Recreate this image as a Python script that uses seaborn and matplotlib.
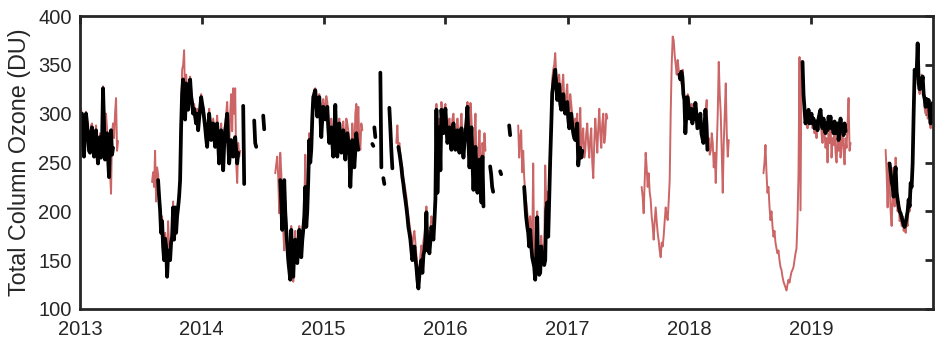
import numpy as np
import pandas as pd
import matplotlib
matplotlib.use("Agg")
import matplotlib.pyplot as plt
import seaborn as sns

# ---------------- data (3-day spaced samples, values in DU) ----------------
# each segment: start date, list of values sampled every 3 days
red_2013a_start = "2013-01-01"
red_2013a = [290, 305, 298, 275, 262, 290, 302, 295, 285, 270, 265, 288, 290, 275, 262, 275,
             288, 270, 255, 268, 280, 262, 275, 328, 305, 290, 300, 285, 270, 250, 240, 218,
             280, 290, 275, 300, 316, 262, 272]
black_2013a_start = "2013-01-01"
black_2013a = [286, 295, 300, 268, 256, 285, 300, 290, 276, 262, 260, 280, 286, 270, 256, 268,
               283, 262, 249, 265, 276, 255, 270, 326, 290, 253, 262, 280, 255, 235, 270, 283,
               258, 265]

red_2013b_start = "2013-08-05"
red_2013b = [230, 240, 225, 262, 210, 245, 238, 220, 205, 185, 195, 170, 160, 178, 168, 140,
             190, 165, 155, 172, 180, 210, 175, 200, 182, 200, 210, 220, 240, 300, 345, 350,
             365, 310, 340, 325, 310, 330, 338, 325, 315, 305, 310, 300, 295, 305, 290, 300,
             310, 320, 312, 308, 300, 290, 282, 272, 292, 305, 295, 280, 285, 295, 285, 272,
             285, 298, 280, 258, 272, 290, 270, 250, 275, 290, 300, 312, 285, 262, 300, 320,
             282, 326, 300, 326, 250, 229, 270, 256, 262]
black_2013b_start = "2013-08-23"
black_2013b = [232, 215, 201, 178, 190, 164, 150, 172, 164, 133, 155, 160, 150, 168, 174, 204,
               171, 204, 178, 195, 204, 215, 232, 286, 321, 335, 318, 294, 331, 320, 304, 322,
               335, 318, 311, 300, 305, 297, 290, 300, 283, 295, 305, 317, 310, 304, 295, 286,
               275, 266, 285, 300, 288, 273, 280, 290, 278, 266, 275, 290, 270, 249, 265, 283,
               262, 242, 268, 283, 290, 300, 270, 249, 262, 273, 265, 256, 268, 276, 262, 249,
               260]
black_2014a_start = "2014-05-05"
black_2014a = [308, 228]
black_2014b_start = "2014-06-07"
black_2014b = [293, 270, 266]
black_2014c_start = "2014-07-04"
black_2014c = [298, 284]

red_2014_start = "2014-08-09"
red_2014 = [239, 248, 256, 235, 198, 260, 240, 215, 181, 160, 210, 190, 172, 160, 148, 135,
            185, 160, 128, 165, 180, 160, 150, 172, 185, 175, 160, 178, 190, 200, 258, 190,
            215, 240, 280, 262, 272, 300, 320, 325, 326, 315, 305, 312, 320, 310, 290, 300,
            315, 308, 300, 318, 312, 295, 280, 290, 295, 280, 265, 290, 300, 285, 265, 285,
            295, 280, 270, 285, 292, 275, 262, 295, 290, 282, 272, 240, 262, 290, 275, 258,
            300, 310, 280, 307, 270, 263, 290, 283]
black_2014_start = "2014-08-24"
black_2014 = [232, 210, 181, 205, 232, 200, 181, 165, 150, 140, 130, 181, 150, 133, 160, 171,
              155, 147, 165, 181, 170, 153, 170, 181, 194, 225, 184, 200, 232, 273, 250, 263,
              295, 317, 320, 324, 310, 297, 305, 317, 300, 276, 295, 307, 300, 294, 300, 307,
              285, 270, 280, 286, 270, 256, 280, 309, 270, 256, 275, 290, 272, 260, 275, 283,
              265, 253, 270, 280, 272, 263, 225, 250, 273, 260, 245, 262, 280, 270, 263]
black_2015a_start = "2015-05-27"
black_2015a = [269, 267]
black_2015b_start = "2015-06-02"
black_2015b = [286, 276]
black_2015c_start = "2015-06-20"
black_2015c = [342, 245]
black_2015d_start = "2015-06-29"
black_2015d = [234, 228]
black_2015e_start = "2015-07-17"
black_2015e = [306, 285, 262, 244]

red_2015_start = "2015-08-07"
red_2015 = [270, 288, 262, 270, 258, 250, 245, 235, 228, 222, 215, 205, 195, 188, 180, 172,
            165, 175, 180, 168, 155, 145, 125, 140, 155, 165, 150, 170, 175, 185, 205, 172,
            180, 170, 182, 195, 190, 185, 200, 225, 310, 240, 275, 295, 260, 312, 300, 292,
            305, 310, 295, 280, 290, 295, 285, 275, 295, 300, 285, 275, 282, 295, 280, 272,
            285, 300, 280, 268, 282, 290, 300, 312, 285, 260, 311, 295, 265, 240, 275, 300,
            255, 235, 262, 283, 250, 230, 270, 255, 280, 262]
black_2015_start = "2015-08-13"
black_2015 = [266, 260, 253, 245, 235, 228, 219, 212, 204, 195, 184, 178, 171, 160, 150, 158,
              164, 152, 143, 130, 121, 135, 143, 150, 137, 155, 160, 170, 199, 160, 165, 157,
              170, 184, 178, 171, 190, 212, 304, 219, 260, 286, 242, 304, 290, 280, 295, 305,
              285, 270, 278, 286, 275, 263, 280, 290, 275, 263, 272, 283, 270, 260, 275, 285,
              268, 255, 270, 280, 290, 307, 270, 245, 265, 286, 250, 222, 250, 266, 240, 219,
              240, 253, 230, 209, 256, 205]
black_2016a_start = "2016-05-14"
black_2016a = [246, 238, 225, 220]
black_2016b_start = "2016-06-13"
black_2016b = [241, 238]
black_2016c_start = "2016-07-10"
black_2016c = [288, 278]

red_2016_start = "2016-08-06"
red_2016 = [288, 255, 276, 283, 240, 262, 235, 220, 210, 200, 190, 175, 195, 180, 165, 249,
            155, 140, 160, 200, 150, 142, 148, 175, 160, 165, 155, 247, 210, 220, 185, 225,
            265, 300, 335, 345, 350, 362, 340, 325, 335, 340, 320, 315, 330, 340, 315, 310,
            320, 330, 305, 295, 320, 310, 298, 290, 285, 295, 290, 300, 260, 270, 306, 265,
            275, 285, 255, 262, 280, 290, 268, 255, 275, 285, 250, 234, 270, 295, 278, 260,
            285, 305, 280, 265, 290, 300, 270, 278, 300, 295]
black_2016_start = "2016-08-24"
black_2016 = [225, 209, 194, 185, 178, 164, 181, 165, 153, 148, 143, 130, 150, 194, 143, 135,
              137, 164, 150, 157, 145, 150, 201, 209, 174, 212, 253, 286, 321, 330, 338, 345,
              330, 314, 322, 330, 310, 304, 315, 320, 305, 300, 308, 312, 295, 285, 292, 300,
              288, 280, 275, 273, 282, 290, 247, 258, 265, 255, 262]

red_2017_start = "2017-08-11"
red_2017 = [225, 215, 198, 230, 260, 245, 225, 239, 220, 212, 195, 185, 171, 190, 204, 190,
            178, 170, 160, 153, 168, 164, 175, 190, 204, 195, 191, 210, 232, 300, 350, 379,
            375, 360, 350, 340, 355, 345, 340, 343, 330, 345, 320, 314, 285, 300, 320, 317,
            305, 300, 310, 295, 305, 300, 311, 300, 290, 286, 295, 300, 285, 275, 270, 290,
            304, 314, 263, 275, 258, 262, 280, 270, 245, 260, 229, 265, 300, 353, 320, 300,
            260, 219, 270, 300, 331, 280, 256, 273]
black_2017_start = "2017-12-02"
black_2017 = [340, 335, 343, 338, 320, 314, 280, 300, 317, 310, 295, 300, 305, 290, 300, 295,
              311, 300, 285, 286, 290, 300, 280, 275, 270, 285, 304, 290, 263]

red_2018_start = "2018-08-11"
red_2018 = [239, 250, 268, 240, 219, 225, 205, 191, 200, 185, 174, 180, 168, 162, 157, 160,
            150, 143, 140, 133, 128, 125, 122, 119, 125, 130, 127, 133, 138, 140, 143, 150,
            157, 162, 191, 239, 358, 201, 350, 350, 320, 300, 290, 300, 285, 304, 295, 296,
            300, 285, 290, 280, 287, 275, 290, 285, 300, 304, 280, 270, 290, 280, 265, 275,
            250, 280, 270, 290, 255, 275, 268, 285, 260, 250, 275, 262, 280, 255, 270, 285,
            262, 248, 275, 265, 290, 316, 262, 270]
black_2018_start = "2018-12-06"
black_2018 = [353, 320, 305, 290, 298, 293, 304, 290, 296, 300, 290, 295, 285, 287, 292, 283,
              295, 300, 304, 290, 285, 295, 285, 280, 290, 283, 297, 290, 297, 285, 290, 280,
              292, 280, 285, 290, 273, 285, 295, 282, 288, 278, 290, 282]

red_2019_start = "2019-08-12"
red_2019 = [263, 240, 204, 250, 230, 200, 185, 215, 245, 205, 255, 222, 200, 210, 190, 195,
            185, 195, 180, 185, 178, 190, 185, 205, 200, 215, 225, 245, 300, 340, 345, 335,
            365, 325, 320, 330, 340, 330, 320, 305, 300, 310, 295, 310, 290, 285, 300, 305,
            295]
black_2019_start = "2019-08-24"
black_2019 = [249, 240, 230, 225, 215, 235, 245, 220, 212, 205, 200, 198, 194, 190, 186, 184,
              188, 194, 200, 212, 205, 229, 225, 249, 300, 345, 340, 342, 372, 331, 325, 335,
              330, 338, 320, 315, 307, 315, 310, 314, 300, 290, 305, 311, 300]

red_segments = [(red_2013a_start, red_2013a), (red_2013b_start, red_2013b),
                (red_2014_start, red_2014), (red_2015_start, red_2015),
                (red_2016_start, red_2016), (red_2017_start, red_2017),
                (red_2018_start, red_2018), (red_2019_start, red_2019)]
black_segments = [(black_2013a_start, black_2013a), (black_2013b_start, black_2013b),
                  (black_2014a_start, black_2014a), (black_2014b_start, black_2014b),
                  (black_2014c_start, black_2014c), (black_2014_start, black_2014),
                  (black_2015a_start, black_2015a), (black_2015b_start, black_2015b),
                  (black_2015c_start, black_2015c), (black_2015d_start, black_2015d),
                  (black_2015e_start, black_2015e), (black_2015_start, black_2015),
                  (black_2016a_start, black_2016a), (black_2016b_start, black_2016b),
                  (black_2016c_start, black_2016c), (black_2016_start, black_2016),
                  (black_2017_start, black_2017), (black_2018_start, black_2018),
                  (black_2019_start, black_2019)]

year_ticks = [2013, 2014, 2015, 2016, 2017, 2018, 2019]
y_ticks = [100, 150, 200, 250, 300, 350, 400]


def build(segments):
    frames = []
    for i, (start, vals) in enumerate(segments):
        dates = pd.date_range(start, periods=len(vals), freq="3D")
        frames.append(pd.DataFrame({"date": dates, "ozone": vals, "seg": i}))
    return pd.concat(frames, ignore_index=True)


red_df = build(red_segments)
black_df = build(black_segments)

# ---------------- style ----------------
sns.set_style("white")
plt.rcParams["font.family"] = ["Liberation Sans", "DejaVu Sans"]
ink = "#262626"
plt.rcParams.update({
    "xtick.direction": "in", "ytick.direction": "in",
    "xtick.top": True, "ytick.right": True,
    "xtick.color": ink, "ytick.color": ink,
    "xtick.labelcolor": ink, "ytick.labelcolor": ink,
})

fig = plt.figure(figsize=(9.43, 3.46), dpi=100)
ax = fig.add_axes([80 / 943, 1 - 309 / 346, (933 - 80) / 943, (309 - 16) / 346])

sns.lineplot(data=red_df, x="date", y="ozone", units="seg", estimator=None,
             color="#CC6666", lw=1.4, ax=ax, sort=False)
sns.lineplot(data=black_df, x="date", y="ozone", units="seg", estimator=None,
             color="black", lw=2.7, ax=ax, sort=False)

ax.set_xlim(pd.Timestamp("2013-01-01"), pd.Timestamp("2020-01-01"))
ax.set_ylim(100, 400)
ax.set_xticks([pd.Timestamp(f"{y}-01-01") for y in year_ticks])
ax.set_xticklabels([str(y) for y in year_ticks])
ax.set_yticks(y_ticks)
ax.set_xlabel("")
ax.set_ylabel("Total Column Ozone (DU)", fontsize=16.8, color=ink, labelpad=5)
ax.tick_params(axis="both", labelsize=14.5, length=6, width=2.0)
ax.tick_params(axis="x", pad=8)
ax.tick_params(axis="y", pad=6)
for s in ax.spines.values():
    s.set_color(ink)
    s.set_linewidth(2.0)

fig.savefig("out.png", dpi=100)
